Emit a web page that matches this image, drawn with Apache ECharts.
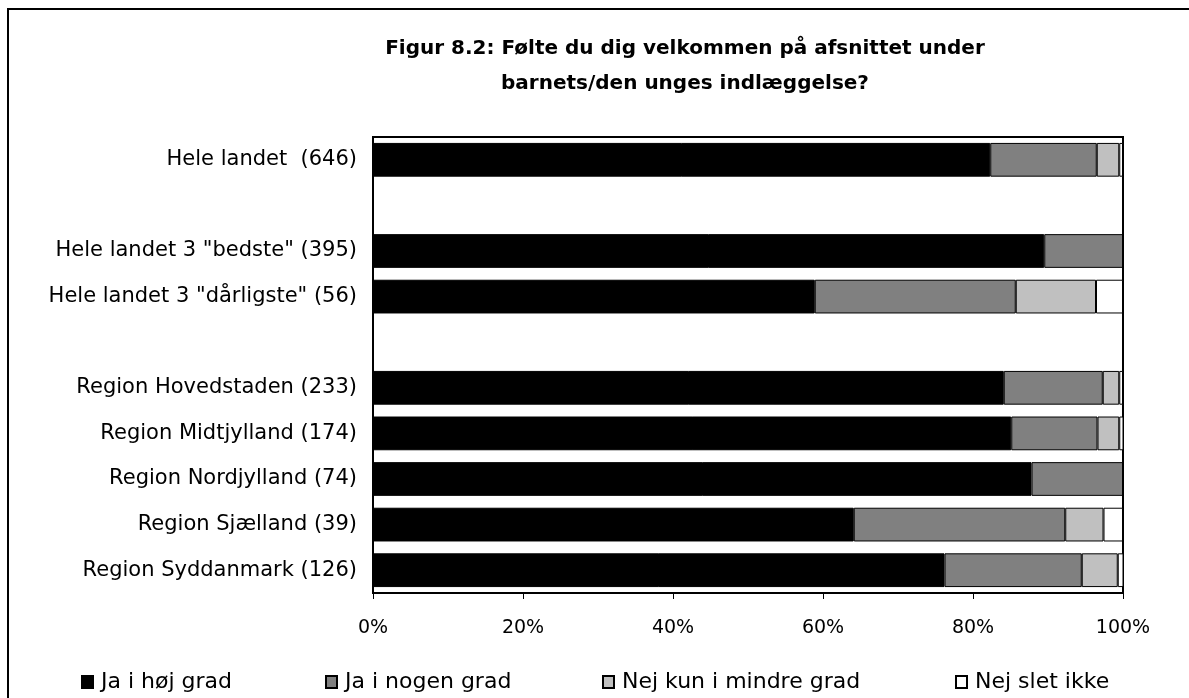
<!DOCTYPE html>
<html>
<head>
<meta charset="utf-8">
<script src="https://cdn.jsdelivr.net/npm/echarts@6/dist/echarts.min.js"></script>
<style>
  html, body { margin: 0; padding: 0; background: #ffffff; }
  #chart { width: 1189px; height: 698px; }
</style>
</head>
<body>
<div id="chart"></div>
<script>
// Categories (empty strings are spacer rows between groups)
const categories = [
  'Hele landet  (646)',
  '',
  'Hele landet 3 "bedste" (395)',
  'Hele landet 3 "dårligste" (56)',
  '',
  'Region Hovedstaden (233)',
  'Region Midtjylland (174)',
  'Region Nordjylland (74)',
  'Region Sjælland (39)',
  'Region Syddanmark (126)'
];

// Share of answers in percent, per category
const jaHoejGrad     = [82.3, null, 89.5, 58.9, null, 84.1, 85.1, 87.8, 64.1, 76.2];
const jaNogenGrad    = [14.2, null, 10.5, 26.8, null, 13.2, 11.5, 12.2, 28.2, 18.3];
const nejMindreGrad  = [ 3.0, null,  0.0, 10.7, null,  2.2,  2.9,  0.0,  5.1,  4.8];
const nejSletIkke    = [ 0.5, null,  0.0,  3.6, null,  0.5,  0.6,  0.0,  2.6,  0.8];

const seriesNames = ['Ja i høj grad', 'Ja i nogen grad', 'Nej kun i mindre grad', 'Nej slet ikke'];
const seriesColors = ['#000000', '#808080', '#c0c0c0', '#ffffff'];
const seriesData = [jaHoejGrad, jaNogenGrad, nejMindreGrad, nejSletIkke];

const xTicks = [0, 20, 40, 60, 80, 100];

const FONT = "'DejaVu Sans', sans-serif";

const chart = echarts.init(document.getElementById('chart'), null, { renderer: 'canvas' });

const legendLefts = [81, 325, 602, 955];

const option = {
  backgroundColor: '#ffffff',
  animation: false,
  title: {
    text: 'Figur 8.2: Følte du dig velkommen på afsnittet under\nbarnets/den unges indlæggelse?',
    left: 680,
    top: 26,
    textAlign: 'center',
    textStyle: {
      fontFamily: FONT,
      fontWeight: 'bold',
      fontSize: 20,
      lineHeight: 35,
      color: '#000000'
    }
  },
  graphic: [{
    type: 'rect',
    shape: { x: 8, y: 9, width: 1300, height: 800 },
    style: { fill: null, stroke: '#000000', lineWidth: 2 },
    silent: true,
    z: 100
  }],
  legend: seriesNames.map((name, i) => ({
    data: [name],
    left: legendLefts[i],
    top: 671,
    padding: 0,
    itemWidth: 11,
    itemHeight: 12,
    icon: 'rect',
    selectedMode: false,
    textStyle: { fontFamily: FONT, fontSize: 22, color: '#000000', padding: [0, 0, 0, 3] }
  })),
  grid: {
    left: 373,
    right: 66,
    top: 137,
    bottom: 105,
    show: true,
    borderColor: '#000000',
    borderWidth: 2,
    backgroundColor: 'transparent'
  },
  xAxis: {
    type: 'value',
    min: 0,
    max: 100,
    interval: 20,
    axisLine: { show: true, lineStyle: { color: '#000000', width: 1 } },
    axisTick: { show: true, length: 6, inside: false, lineStyle: { color: '#000000' } },
    splitLine: { show: false },
    axisLabel: {
      margin: 26,
      fontFamily: FONT,
      fontSize: 19,
      color: '#000000',
      formatter: v => xTicks.includes(v) ? v + '%' : ''
    }
  },
  yAxis: {
    type: 'category',
    data: categories,
    inverse: true,
    axisLine: { show: true, lineStyle: { color: '#000000', width: 2 } },
    axisTick: { show: false },
    splitLine: { show: false },
    axisLabel: {
      margin: 16,
      fontFamily: FONT,
      fontSize: 21,
      color: '#000000'
    }
  },
  series: seriesNames.map((name, i) => ({
    name: name,
    type: 'bar',
    stack: 'total',
    data: seriesData[i],
    barCategoryGap: '26%',
    itemStyle: {
      color: seriesColors[i],
      borderColor: '#000000',
      borderWidth: 1
    },
    emphasis: { disabled: true }
  }))
};

chart.setOption(option);
</script>
</body>
</html>
